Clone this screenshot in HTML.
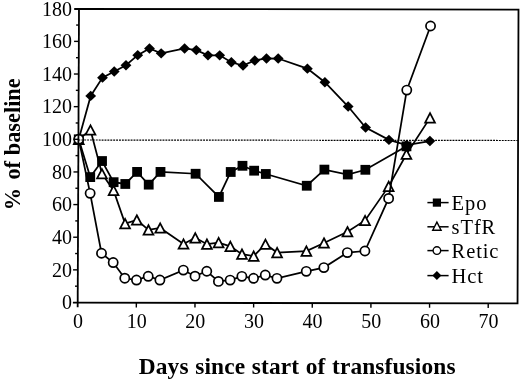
<!DOCTYPE html>
<html><head><meta charset="utf-8"><title>Chart</title>
<style>
html,body{margin:0;padding:0;background:#fff;}
body{width:520px;height:381px;overflow:hidden;}
svg{display:block;font-family:"Liberation Serif","Times New Roman",serif;fill:#000;}
svg text{fill:#000;}
</style></head><body>
<svg width="520" height="381" viewBox="0 0 520 381">
<rect width="520" height="381" fill="#fff"/>
<polyline fill="none" stroke="#000" stroke-width="1.75" points="78.74,139.30 90.69,95.90 102.50,77.63 114.24,71.44 125.98,65.25 137.74,55.14 149.48,48.45 161.16,53.36 184.60,48.48 196.30,50.12 207.98,55.36 219.68,55.37 231.35,62.23 243.04,65.50 254.77,60.45 266.49,58.50 278.19,58.51 307.40,68.65 324.89,82.21 348.16,106.55 365.60,127.45 388.95,139.88 406.48,145.11 429.91,141.05"/>
<polygon points="78.74,134.10 84.14,139.30 78.74,144.50 73.34,139.30" fill="#000"/>
<polygon points="90.69,90.70 96.09,95.90 90.69,101.10 85.29,95.90" fill="#000"/>
<polygon points="102.50,72.43 107.90,77.63 102.50,82.83 97.10,77.63" fill="#000"/>
<polygon points="114.24,66.24 119.64,71.44 114.24,76.64 108.84,71.44" fill="#000"/>
<polygon points="125.98,60.05 131.38,65.25 125.98,70.45 120.58,65.25" fill="#000"/>
<polygon points="137.74,49.94 143.14,55.14 137.74,60.34 132.34,55.14" fill="#000"/>
<polygon points="149.48,43.25 154.88,48.45 149.48,53.65 144.08,48.45" fill="#000"/>
<polygon points="161.16,48.16 166.56,53.36 161.16,58.56 155.76,53.36" fill="#000"/>
<polygon points="184.60,43.28 190.00,48.48 184.60,53.68 179.20,48.48" fill="#000"/>
<polygon points="196.30,44.92 201.70,50.12 196.30,55.32 190.90,50.12" fill="#000"/>
<polygon points="207.98,50.16 213.38,55.36 207.98,60.56 202.58,55.36" fill="#000"/>
<polygon points="219.68,50.17 225.08,55.37 219.68,60.57 214.28,55.37" fill="#000"/>
<polygon points="231.35,57.03 236.75,62.23 231.35,67.43 225.95,62.23" fill="#000"/>
<polygon points="243.04,60.30 248.44,65.50 243.04,70.70 237.64,65.50" fill="#000"/>
<polygon points="254.77,55.25 260.17,60.45 254.77,65.65 249.37,60.45" fill="#000"/>
<polygon points="266.49,53.30 271.89,58.50 266.49,63.70 261.09,58.50" fill="#000"/>
<polygon points="278.19,53.31 283.59,58.51 278.19,63.71 272.79,58.51" fill="#000"/>
<polygon points="307.40,63.45 312.80,68.65 307.40,73.85 302.00,68.65" fill="#000"/>
<polygon points="324.89,77.01 330.29,82.21 324.89,87.41 319.49,82.21" fill="#000"/>
<polygon points="348.16,101.35 353.56,106.55 348.16,111.75 342.76,106.55" fill="#000"/>
<polygon points="365.60,122.25 371.00,127.45 365.60,132.65 360.20,127.45" fill="#000"/>
<polygon points="388.95,134.68 394.35,139.88 388.95,145.08 383.55,139.88" fill="#000"/>
<polygon points="406.48,139.91 411.88,145.11 406.48,150.31 401.08,145.11" fill="#000"/>
<polygon points="429.91,135.85 435.31,141.05 429.91,146.25 424.51,141.05" fill="#000"/>
<polyline fill="none" stroke="#000" stroke-width="1.75" points="78.74,139.30 90.50,130.01 101.96,173.75 113.57,190.41 125.09,223.55 136.82,219.97 148.47,229.93 160.18,227.98 183.51,244.00 195.25,237.80 206.92,244.18 218.63,242.56 230.32,246.32 241.98,254.16 253.68,256.13 265.45,244.23 277.11,252.56 306.38,251.11 323.99,242.97 347.46,231.72 365.08,220.48 388.69,186.39 406.42,154.25 430.04,117.88"/>
<polygon points="78.74,134.60 83.64,144.00 73.84,144.00" fill="#fff" stroke="#000" stroke-width="1.75" stroke-linejoin="miter"/>
<polygon points="90.50,125.31 95.40,134.71 85.60,134.71" fill="#fff" stroke="#000" stroke-width="1.75" stroke-linejoin="miter"/>
<polygon points="101.96,169.05 106.86,178.45 97.06,178.45" fill="#fff" stroke="#000" stroke-width="1.75" stroke-linejoin="miter"/>
<polygon points="113.57,185.71 118.47,195.11 108.67,195.11" fill="#fff" stroke="#000" stroke-width="1.75" stroke-linejoin="miter"/>
<polygon points="125.09,218.85 129.99,228.25 120.19,228.25" fill="#fff" stroke="#000" stroke-width="1.75" stroke-linejoin="miter"/>
<polygon points="136.82,215.27 141.72,224.67 131.92,224.67" fill="#fff" stroke="#000" stroke-width="1.75" stroke-linejoin="miter"/>
<polygon points="148.47,225.23 153.37,234.63 143.57,234.63" fill="#fff" stroke="#000" stroke-width="1.75" stroke-linejoin="miter"/>
<polygon points="160.18,223.28 165.08,232.68 155.28,232.68" fill="#fff" stroke="#000" stroke-width="1.75" stroke-linejoin="miter"/>
<polygon points="183.51,239.30 188.41,248.70 178.61,248.70" fill="#fff" stroke="#000" stroke-width="1.75" stroke-linejoin="miter"/>
<polygon points="195.25,233.10 200.15,242.50 190.35,242.50" fill="#fff" stroke="#000" stroke-width="1.75" stroke-linejoin="miter"/>
<polygon points="206.92,239.48 211.82,248.88 202.02,248.88" fill="#fff" stroke="#000" stroke-width="1.75" stroke-linejoin="miter"/>
<polygon points="218.63,237.86 223.53,247.26 213.73,247.26" fill="#fff" stroke="#000" stroke-width="1.75" stroke-linejoin="miter"/>
<polygon points="230.32,241.62 235.22,251.02 225.42,251.02" fill="#fff" stroke="#000" stroke-width="1.75" stroke-linejoin="miter"/>
<polygon points="241.98,249.46 246.88,258.86 237.08,258.86" fill="#fff" stroke="#000" stroke-width="1.75" stroke-linejoin="miter"/>
<polygon points="253.68,251.43 258.58,260.83 248.78,260.83" fill="#fff" stroke="#000" stroke-width="1.75" stroke-linejoin="miter"/>
<polygon points="265.45,239.53 270.35,248.93 260.55,248.93" fill="#fff" stroke="#000" stroke-width="1.75" stroke-linejoin="miter"/>
<polygon points="277.11,247.86 282.01,257.26 272.21,257.26" fill="#fff" stroke="#000" stroke-width="1.75" stroke-linejoin="miter"/>
<polygon points="306.38,246.41 311.28,255.81 301.48,255.81" fill="#fff" stroke="#000" stroke-width="1.75" stroke-linejoin="miter"/>
<polygon points="323.99,238.27 328.89,247.67 319.09,247.67" fill="#fff" stroke="#000" stroke-width="1.75" stroke-linejoin="miter"/>
<polygon points="347.46,227.02 352.36,236.42 342.56,236.42" fill="#fff" stroke="#000" stroke-width="1.75" stroke-linejoin="miter"/>
<polygon points="365.08,215.78 369.98,225.18 360.18,225.18" fill="#fff" stroke="#000" stroke-width="1.75" stroke-linejoin="miter"/>
<polygon points="388.69,181.69 393.59,191.09 383.79,191.09" fill="#fff" stroke="#000" stroke-width="1.75" stroke-linejoin="miter"/>
<polygon points="406.42,149.55 411.32,158.95 401.52,158.95" fill="#fff" stroke="#000" stroke-width="1.75" stroke-linejoin="miter"/>
<polygon points="430.04,113.18 434.94,122.58 425.14,122.58" fill="#fff" stroke="#000" stroke-width="1.75" stroke-linejoin="miter"/>
<polyline fill="none" stroke="#000" stroke-width="1.75" points="78.74,139.30 90.23,177.09 102.03,161.03 113.62,182.17 125.31,183.97 137.09,171.91 148.72,184.65 160.50,171.92 195.61,173.75 218.89,196.94 230.73,171.98 242.48,165.79 254.15,170.69 265.84,173.97 306.75,185.75 324.40,169.61 347.78,174.52 365.37,169.80 406.47,146.34"/>
<rect x="73.84" y="134.40" width="9.80" height="9.80" fill="#000"/>
<rect x="85.33" y="172.19" width="9.80" height="9.80" fill="#000"/>
<rect x="97.13" y="156.13" width="9.80" height="9.80" fill="#000"/>
<rect x="108.72" y="177.27" width="9.80" height="9.80" fill="#000"/>
<rect x="120.41" y="179.07" width="9.80" height="9.80" fill="#000"/>
<rect x="132.19" y="167.01" width="9.80" height="9.80" fill="#000"/>
<rect x="143.82" y="179.75" width="9.80" height="9.80" fill="#000"/>
<rect x="155.60" y="167.02" width="9.80" height="9.80" fill="#000"/>
<rect x="190.71" y="168.85" width="9.80" height="9.80" fill="#000"/>
<rect x="213.99" y="192.04" width="9.80" height="9.80" fill="#000"/>
<rect x="225.83" y="167.08" width="9.80" height="9.80" fill="#000"/>
<rect x="237.58" y="160.89" width="9.80" height="9.80" fill="#000"/>
<rect x="249.25" y="165.79" width="9.80" height="9.80" fill="#000"/>
<rect x="260.94" y="169.07" width="9.80" height="9.80" fill="#000"/>
<rect x="301.85" y="180.85" width="9.80" height="9.80" fill="#000"/>
<rect x="319.50" y="164.71" width="9.80" height="9.80" fill="#000"/>
<rect x="342.88" y="169.62" width="9.80" height="9.80" fill="#000"/>
<rect x="360.47" y="164.90" width="9.80" height="9.80" fill="#000"/>
<rect x="401.57" y="141.44" width="9.80" height="9.80" fill="#000"/>
<polyline fill="none" stroke="#000" stroke-width="1.75" points="78.74,139.30 90.14,193.33 101.51,253.23 113.17,262.55 124.78,278.22 136.48,280.03 148.21,276.28 159.89,280.04 183.36,270.11 195.03,276.16 206.77,271.27 218.42,281.40 230.13,280.10 241.86,276.36 253.55,278.32 265.28,275.07 276.96,278.34 306.27,271.35 323.85,267.61 347.34,252.61 364.91,251.00 388.62,198.46 406.78,90.11 430.55,25.99"/>
<circle cx="78.74" cy="139.30" r="4.60" fill="#fff" stroke="#000" stroke-width="1.7"/>
<circle cx="90.14" cy="193.33" r="4.60" fill="#fff" stroke="#000" stroke-width="1.7"/>
<circle cx="101.51" cy="253.23" r="4.60" fill="#fff" stroke="#000" stroke-width="1.7"/>
<circle cx="113.17" cy="262.55" r="4.60" fill="#fff" stroke="#000" stroke-width="1.7"/>
<circle cx="124.78" cy="278.22" r="4.60" fill="#fff" stroke="#000" stroke-width="1.7"/>
<circle cx="136.48" cy="280.03" r="4.60" fill="#fff" stroke="#000" stroke-width="1.7"/>
<circle cx="148.21" cy="276.28" r="4.60" fill="#fff" stroke="#000" stroke-width="1.7"/>
<circle cx="159.89" cy="280.04" r="4.60" fill="#fff" stroke="#000" stroke-width="1.7"/>
<circle cx="183.36" cy="270.11" r="4.60" fill="#fff" stroke="#000" stroke-width="1.7"/>
<circle cx="195.03" cy="276.16" r="4.60" fill="#fff" stroke="#000" stroke-width="1.7"/>
<circle cx="206.77" cy="271.27" r="4.60" fill="#fff" stroke="#000" stroke-width="1.7"/>
<circle cx="218.42" cy="281.40" r="4.60" fill="#fff" stroke="#000" stroke-width="1.7"/>
<circle cx="230.13" cy="280.10" r="4.60" fill="#fff" stroke="#000" stroke-width="1.7"/>
<circle cx="241.86" cy="276.36" r="4.60" fill="#fff" stroke="#000" stroke-width="1.7"/>
<circle cx="253.55" cy="278.32" r="4.60" fill="#fff" stroke="#000" stroke-width="1.7"/>
<circle cx="265.28" cy="275.07" r="4.60" fill="#fff" stroke="#000" stroke-width="1.7"/>
<circle cx="276.96" cy="278.34" r="4.60" fill="#fff" stroke="#000" stroke-width="1.7"/>
<circle cx="306.27" cy="271.35" r="4.60" fill="#fff" stroke="#000" stroke-width="1.7"/>
<circle cx="323.85" cy="267.61" r="4.60" fill="#fff" stroke="#000" stroke-width="1.7"/>
<circle cx="347.34" cy="252.61" r="4.60" fill="#fff" stroke="#000" stroke-width="1.7"/>
<circle cx="364.91" cy="251.00" r="4.60" fill="#fff" stroke="#000" stroke-width="1.7"/>
<circle cx="388.62" cy="198.46" r="4.60" fill="#fff" stroke="#000" stroke-width="1.7"/>
<circle cx="406.78" cy="90.11" r="4.60" fill="#fff" stroke="#000" stroke-width="1.7"/>
<circle cx="430.55" cy="25.99" r="4.60" fill="#fff" stroke="#000" stroke-width="1.7"/>
<line x1="78.42" y1="140.0" x2="518.08" y2="140.5" stroke="#000" stroke-width="1.2" stroke-dasharray="1.9 1"/>
<g stroke="#000" stroke-width="1.8" fill="none" stroke-linejoin="miter">
<path d="M74.20 8.99 L79.00 9.00 L518.50 9.55 L517.55 303.40 L72.90 302.69"/>
<path d="M79.00 9.00 L77.68 307.30"/>
</g>
<g stroke="#000" stroke-width="1.4">
<line x1="74.97" y1="286.18" x2="77.77" y2="286.18"/>
<line x1="73.05" y1="269.86" x2="77.85" y2="269.86"/>
<line x1="75.12" y1="253.54" x2="77.92" y2="253.54"/>
<line x1="73.19" y1="237.22" x2="77.99" y2="237.22"/>
<line x1="75.26" y1="220.90" x2="78.06" y2="220.90"/>
<line x1="73.33" y1="204.58" x2="78.13" y2="204.58"/>
<line x1="75.41" y1="188.26" x2="78.21" y2="188.26"/>
<line x1="73.48" y1="171.94" x2="78.28" y2="171.94"/>
<line x1="75.55" y1="155.62" x2="78.35" y2="155.62"/>
<line x1="73.62" y1="139.30" x2="78.42" y2="139.30"/>
<line x1="75.70" y1="122.98" x2="78.50" y2="122.98"/>
<line x1="73.77" y1="106.66" x2="78.57" y2="106.66"/>
<line x1="75.84" y1="90.34" x2="78.64" y2="90.34"/>
<line x1="73.91" y1="74.02" x2="78.71" y2="74.02"/>
<line x1="75.98" y1="57.70" x2="78.78" y2="57.70"/>
<line x1="74.06" y1="41.38" x2="78.86" y2="41.38"/>
<line x1="76.13" y1="25.06" x2="78.93" y2="25.06"/>
<line x1="136.35" y1="302.79" x2="136.33" y2="307.39"/>
<line x1="194.99" y1="302.89" x2="194.97" y2="307.49"/>
<line x1="253.64" y1="302.98" x2="253.62" y2="307.58"/>
<line x1="312.29" y1="303.07" x2="312.27" y2="307.67"/>
<line x1="370.93" y1="303.17" x2="370.91" y2="307.77"/>
<line x1="429.58" y1="303.26" x2="429.56" y2="307.86"/>
<line x1="488.23" y1="303.35" x2="488.21" y2="307.95"/>
</g>
<line x1="427.4" y1="202.6" x2="448.6" y2="202.6" stroke="#000" stroke-width="1.5"/>
<rect x="432.80" y="198.50" width="8.20" height="8.20" fill="#000"/>
<text x="451.6" y="209.5" font-size="20.5" letter-spacing="0.9">Epo</text>
<line x1="427.4" y1="226.8" x2="448.6" y2="226.8" stroke="#000" stroke-width="1.5"/>
<polygon points="436.90,222.10 441.10,230.30 432.70,230.30" fill="#fff" stroke="#000" stroke-width="1.4" stroke-linejoin="miter"/>
<text x="451.6" y="233.7" font-size="20.5" letter-spacing="0.9">sTfR</text>
<line x1="427.4" y1="250.6" x2="448.6" y2="250.6" stroke="#000" stroke-width="1.5"/>
<circle cx="436.90" cy="250.60" r="3.80" fill="#fff" stroke="#000" stroke-width="1.4"/>
<text x="451.6" y="257.5" font-size="20.5" letter-spacing="0.9">Retic</text>
<line x1="427.4" y1="275.6" x2="448.6" y2="275.6" stroke="#000" stroke-width="1.5"/>
<polygon points="436.90,271.10 441.40,275.60 436.90,280.10 432.40,275.60" fill="#000"/>
<text x="451.6" y="282.5" font-size="20.5" letter-spacing="0.9">Hct</text>
<text x="72.1" y="309.30" text-anchor="end" font-size="20">0</text>
<text x="72.1" y="276.66" text-anchor="end" font-size="20">20</text>
<text x="72.1" y="244.02" text-anchor="end" font-size="20">40</text>
<text x="72.1" y="211.38" text-anchor="end" font-size="20">60</text>
<text x="72.1" y="178.74" text-anchor="end" font-size="20">80</text>
<text x="72.1" y="146.10" text-anchor="end" font-size="20">100</text>
<text x="72.1" y="113.46" text-anchor="end" font-size="20">120</text>
<text x="72.1" y="80.82" text-anchor="end" font-size="20">140</text>
<text x="72.1" y="48.18" text-anchor="end" font-size="20">160</text>
<text x="72.1" y="15.54" text-anchor="end" font-size="20">180</text>
<text x="78.00" y="328.3" text-anchor="middle" font-size="20">0</text>
<text x="136.65" y="328.3" text-anchor="middle" font-size="20">10</text>
<text x="195.29" y="328.3" text-anchor="middle" font-size="20">20</text>
<text x="253.94" y="328.3" text-anchor="middle" font-size="20">30</text>
<text x="312.59" y="328.3" text-anchor="middle" font-size="20">40</text>
<text x="371.23" y="328.3" text-anchor="middle" font-size="20">50</text>
<text x="429.88" y="328.3" text-anchor="middle" font-size="20">60</text>
<text x="488.53" y="328.3" text-anchor="middle" font-size="20">70</text>
<text x="297.2" y="373.6" text-anchor="middle" font-size="23.4" font-weight="bold" word-spacing="0.6" letter-spacing="0.12" id="xt">Days since start of transfusions</text>
<text transform="translate(19.8,144.3) rotate(-90)" text-anchor="middle" font-size="22.3" font-weight="bold" id="yt">% <tspan dx="2.8">of</tspan> <tspan dx="0.2">baseline</tspan></text>
</svg>
</body></html>
